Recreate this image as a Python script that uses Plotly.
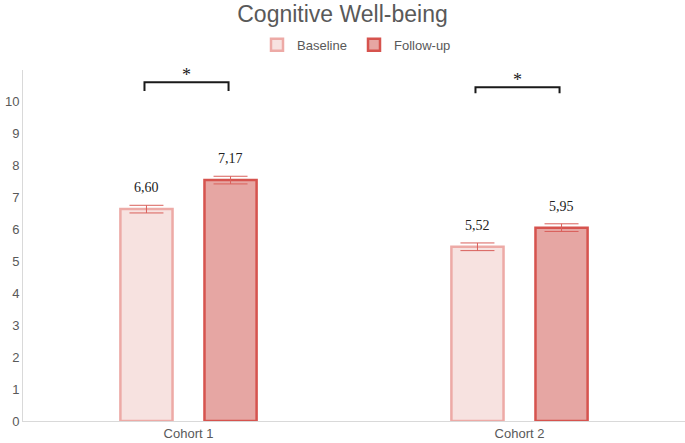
import plotly.graph_objects as go

categories = ["Cohort 1", "Cohort 2"]
series_names = ["Baseline", "Follow-up"]
baseline_vals = [6.64, 5.46]
followup_vals = [7.55, 6.06]
baseline_err = [0.12, 0.12]
followup_err = [0.12, 0.12]
baseline_labels = ["6,60", "5,52"]
followup_labels = ["7,17", "5,95"]
bracket_top = [10.62, 10.46]
bracket_bottom = [10.34, 10.27]
bracket_text = ["*", "*"]
yticks = [0, 1, 2, 3, 4, 5, 6, 7, 8, 9, 10]

fills = ["#F7E2E0", "#E6A6A3"]
borders = ["#EDAAA6", "#D6534E"]
errc = "#D9605B"

fig = go.Figure()
vals_all = [baseline_vals, followup_vals]
errs_all = [baseline_err, followup_err]
labels_all = [baseline_labels, followup_labels]
for i in range(2):
    fig.add_trace(go.Bar(
        name=series_names[i], x=categories, y=vals_all[i],
        marker=dict(color=fills[i], line=dict(color=borders[i], width=2.5)),
        error_y=dict(type="data", array=errs_all[i], color=errc, thickness=1, width=17),
    ))

offset = 0.127
for i in range(2):
    sgn = -1 if i == 0 else 1
    for j, c in enumerate(categories):
        fig.add_annotation(
            x=j + sgn * offset, y=vals_all[i][j] + errs_all[i][j], xref="x", yref="y",
            text=labels_all[i][j], showarrow=False, yanchor="bottom", yshift=8,
            font=dict(family="Liberation Serif", size=14, color="#222222"),
        )

for j in range(len(categories)):
    x0 = j - offset - 0.006
    x1 = j + offset - 0.006
    fig.add_trace(go.Scatter(
        x=[x0, x0, x1, x1], y=[bracket_bottom[j], bracket_top[j], bracket_top[j], bracket_bottom[j]],
        mode="lines", line=dict(color="#1a1a1a", width=2), showlegend=False, hoverinfo="skip",
        xaxis="x2",
    ))
    fig.add_annotation(x=j - 0.006, y=bracket_top[j], xref="x2", yref="y", text=bracket_text[j],
                       showarrow=False, yanchor="bottom", yshift=-5,
                       font=dict(family="Liberation Serif", size=18, color="#1a1a1a"))

fig.update_layout(
    width=685, height=443,
    margin=dict(l=23, r=0, t=70, b=22, autoexpand=False),
    paper_bgcolor="white", plot_bgcolor="white",
    title=dict(text="Cognitive Well-being", x=0.5, xanchor="center", y=0.968, yanchor="middle",
               font=dict(family="Liberation Sans", size=23, color="#595959")),
    barmode="group", bargap=0.492, bargroupgap=0.38,
    legend=dict(orientation="h", x=0.5, xanchor="center", y=1.072, yanchor="middle",
                font=dict(family="Liberation Sans", size=13, color="#595959"),
                itemwidth=30, tracegroupgap=0, traceorder="normal", entrywidth=52),
    xaxis=dict(showgrid=False, showline=True, linecolor="#D9D9D9", linewidth=1,
               tickfont=dict(family="Liberation Sans", size=13, color="#595959"), ticks="",
               range=[-0.5, 1.5], automargin=False),
    xaxis2=dict(overlaying="x", range=[-0.5, 1.5], visible=False),
    yaxis=dict(range=[0, 11], tickvals=yticks, showgrid=False, showline=True, linecolor="#D9D9D9",
               linewidth=1, ticks="", zeroline=False, automargin=False,
               tickfont=dict(family="Liberation Sans", size=13, color="#595959")),
)

fig.write_html("out.html", config={"displayModeBar": False},
               post_script="document.body.style.margin='0';document.body.style.overflow='hidden';")
